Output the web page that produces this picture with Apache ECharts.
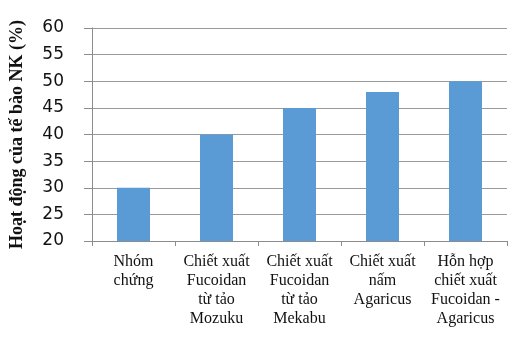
<!DOCTYPE html>
<html><head><meta charset="utf-8">
<script src="https://cdn.jsdelivr.net/npm/echarts@6/dist/echarts.min.js"></script>
<style>html,body{margin:0;padding:0;background:#fff}#c{width:526px;height:338px}</style>
</head><body><div id="c"></div>
<script>
var categories = ["Nhóm\nchứng", "Chiết xuất\nFucoidan\ntừ tảo\nMozuku", "Chiết xuất\nFucoidan\ntừ tảo\nMekabu", "Chiết xuất\nnấm\nAgaricus", "Hỗn hợp\nchiết xuất\nFucoidan -\nAgaricus"];
var values = [30, 40, 45, 48, 50];
var yTitle = "Hoạt động của tế bào NK (%)";
var chart = echarts.init(document.getElementById('c'), null, {renderer: 'canvas'});
chart.setOption({
  animation: false,
  backgroundColor: '#fff',
  grid: {left: 87, right: 19, top: 28, bottom: 97, containLabel: false},
  xAxis: {
    type: 'category', data: categories,
    axisLine: {lineStyle: {color: '#8c8c8c', width: 1}},
    axisTick: {show: true, length: 5, lineStyle: {color: '#8c8c8c'}},
    axisLabel: {margin: 11, color: '#111', fontFamily: 'Liberation Serif', fontSize: 16, lineHeight: 19, interval: 0}
  },
  yAxis: {
    type: 'value', min: 20, max: 60, interval: 5,
    name: yTitle, nameLocation: 'middle', nameGap: 66, nameRotate: 90,
    nameTextStyle: {fontFamily: 'Liberation Serif', fontWeight: 'bold', fontSize: 18, color: '#111'},
    axisLine: {show: true, lineStyle: {color: '#8c8c8c', width: 1}},
    axisTick: {show: true, length: 8, lineStyle: {color: '#8c8c8c'}},
    axisLabel: {margin: 28, color: '#111', fontFamily: 'DejaVu Sans', fontSize: 17},
    splitLine: {lineStyle: {color: '#9a9a9a', width: 1}}
  },
  series: [{type: 'bar', data: values, barWidth: 33, itemStyle: {color: '#5b9bd5'}}]
});
</script></body></html>
